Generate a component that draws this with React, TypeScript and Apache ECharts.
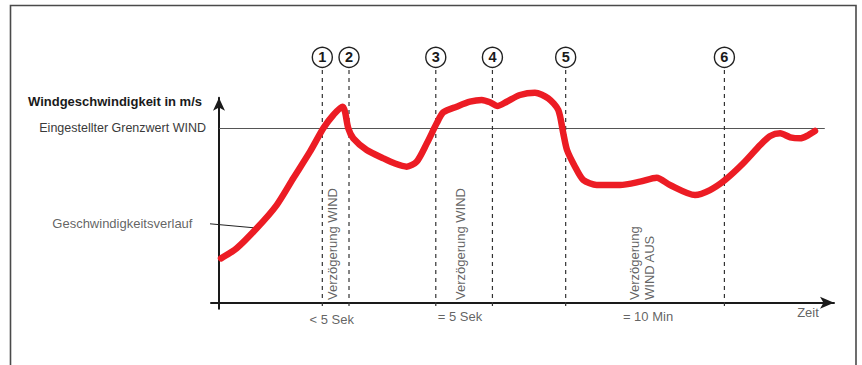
import React, { useEffect, useRef } from 'react';
import * as echarts from 'echarts';

// Wind speed curve: [time, speed] (time 0..100 arbitrary units, speed in m/s units)
const speedCurve: [number, number][] = [
  [0.33, 5.09], [2.88, 6.24], [6.13, 8.53], [9.38, 11.2], [12.08, 14.27], [14.8, 17.32],
  [16.96, 20.0], [18.59, 21.53], [20.11, 22.48], [20.49, 21.9], [21.02, 20.0], [21.84, 18.85],
  [24.02, 17.51], [26.72, 16.56], [28.62, 15.96], [30.52, 15.6], [32.15, 16.17], [33.82, 18.31],
  [35.4, 20.57], [36.47, 21.83], [38.65, 22.48], [40.81, 23.05], [42.72, 23.25], [44.07, 22.98],
  [45.25, 22.56], [46.78, 23.05], [48.94, 23.82], [51.38, 24.08], [53.54, 23.44], [55.17, 22.1],
  [55.98, 19.43], [56.59, 17.51], [57.89, 15.6], [59.24, 14.07], [61.41, 13.5], [65.2, 13.5],
  [68.46, 13.88], [71.17, 14.33], [73.33, 13.5], [77.4, 12.35], [79.84, 12.92], [82.28, 14.07],
  [85.25, 15.99], [88.0, 18.08], [89.63, 19.12], [91.25, 19.43], [92.88, 18.97], [94.5, 18.85],
  [95.56, 19.12], [96.91, 19.69],
];

const eventNumbers = ['1', '2', '3', '4', '5', '6'];
const eventTimes = [16.8, 21.14, 35.25, 44.46, 56.37, 82.18];

const thresholdValue = 20;
const thresholdEnd = 98.5;
const thresholdLabel = 'Eingestellter Grenzwert WIND';

const delayLabels = ['Verzögerung WIND', 'Verzögerung WIND', 'Verzögerung\nWIND AUS'];
const delayLabelTimes = [18.49, 39.3, 68.73];

const durationLabels = ['< 5 Sek', '= 5 Sek', '= 10 Min'];
const durationLabelTimes = [18.33, 39.19, 69.76];

const yAxisTitle = 'Windgeschwindigkeit in m/s';
const xAxisTitle = 'Zeit';
const curveLabel = 'Geschwindigkeitsverlauf';
const curveLeader: [number, number][] = [[-2.93, 9.14], [6.02, 8.57]];

const FONT = '"Liberation Sans", Arial, Helvetica, sans-serif';
const TEXT = '#3a3a3a';

export default function App() {
  const ref = useRef<HTMLDivElement>(null);

  useEffect(() => {
    document.body.style.margin = '0';
    if (!ref.current) return;
    const chart = echarts.init(ref.current, undefined, { renderer: 'svg' });

    const dashedSeries = eventTimes.map((t) => ({
      type: 'line',
      data: [[t, 26.7], [t, -0.6]],
      symbol: 'none',
      clip: false,
      silent: true,
      z: 2,
      lineStyle: { color: '#333', width: 1.2, type: [4, 4] },
    }));

    const option: any = {
      animation: false,
      textStyle: { fontFamily: FONT },
      grid: { left: 211, right: 28, top: 97.8, bottom: 56.2, containLabel: false },
      xAxis: {
        type: 'value',
        min: -1.3,
        max: 100,
        axisLine: {
          show: true,
          onZero: true,
          symbol: ['none', 'arrow'],
          symbolSize: [9, 14],
          lineStyle: { color: '#1a1a1a', width: 2 },
        },
        axisTick: { show: false },
        axisLabel: { show: false },
        splitLine: { show: false },
      },
      yAxis: {
        type: 'value',
        min: -0.7,
        max: 23.5,
        name: yAxisTitle,
        nameLocation: 'end',
        nameGap: -3.2,
        nameTextStyle: {
          align: 'right',
          verticalAlign: 'middle',
          padding: [0, 17, 0, 0],
          fontWeight: 'bold',
          fontSize: 13,
          color: '#1a1a1a',
          fontFamily: FONT,
        },
        axisLine: {
          show: true,
          onZero: true,
          symbol: ['none', 'arrow'],
          symbolSize: [9, 13],
          lineStyle: { color: '#1a1a1a', width: 2 },
        },
        axisTick: { show: false },
        axisLabel: { show: false },
        splitLine: { show: false },
      },
      graphic: [
        {
          type: 'rect',
          shape: { x: 10.5, y: 5.5, width: 845.5, height: 420 },
          style: { fill: 'none', stroke: '#4a4a4a', lineWidth: 1.6 },
          silent: true,
          z: 0,
        },
      ],
      series: [
        ...dashedSeries,
        {
          type: 'scatter',
          data: eventTimes.map((t) => [t, 28.14]),
          symbol: 'circle',
          symbolSize: 20,
          clip: false,
          silent: true,
          z: 5,
          itemStyle: { color: '#fff', borderColor: '#222', borderWidth: 1.4, opacity: 1 },
          label: {
            show: true,
            position: 'inside',
            formatter: (p: any) => eventNumbers[p.dataIndex],
            fontWeight: 'bold',
            fontSize: 14.5,
            color: '#1a1a1a',
            fontFamily: FONT,
          },
        },
        {
          type: 'scatter',
          data: delayLabelTimes.map((t) => [t, 0.31]),
          symbolSize: 1,
          clip: false,
          silent: true,
          z: 4,
          itemStyle: { color: 'transparent' },
          label: {
            show: true,
            position: 'inside',
            rotate: 90,
            align: 'left',
            verticalAlign: 'middle',
            lineHeight: 15,
            formatter: (p: any) => delayLabels[p.dataIndex],
            fontSize: 13,
            color: TEXT,
            fontFamily: FONT,
          },
        },
        {
          type: 'scatter',
          data: [
            ...durationLabelTimes.map((t, i) => ({ value: [t, i === 0 ? -1.98 : -1.64], name: durationLabels[i] })),
            { value: [95.77, -1.18], name: xAxisTitle },
          ],
          symbolSize: 1,
          clip: false,
          silent: true,
          z: 4,
          itemStyle: { color: 'transparent' },
          label: {
            show: true,
            position: 'inside',
            align: 'center',
            verticalAlign: 'middle',
            formatter: (p: any) => p.name,
            fontSize: 13,
            color: TEXT,
            fontFamily: FONT,
          },
        },
        {
          type: 'line',
          data: curveLeader,
          symbol: 'none',
          clip: false,
          silent: true,
          z: 3,
          lineStyle: { color: '#222', width: 1 },
        },
        {
          type: 'scatter',
          data: [{ value: curveLeader[0], name: curveLabel }],
          symbolSize: 1,
          clip: false,
          silent: true,
          z: 4,
          itemStyle: { color: 'transparent' },
          label: {
            show: true,
            position: 'left',
            distance: 8,
            formatter: (p: any) => p.name,
            fontSize: 13,
            color: TEXT,
            fontFamily: FONT,
          },
        },
        {
          type: 'line',
          data: speedCurve,
          symbol: 'none',
          smooth: 0.25,
          clip: false,
          silent: true,
          z: 10,
          lineStyle: { color: '#ec1c24', width: 6.5, cap: 'round', join: 'round' },
          markLine: {
            silent: true,
            symbol: 'none',
            z: 1,
            lineStyle: { color: '#555', width: 1.2, type: 'solid' },
            label: {
              show: true,
              position: 'start',
              distance: 13,
              formatter: thresholdLabel,
              fontSize: 12.5,
              color: TEXT,
              fontFamily: FONT,
            },
            data: [[{ coord: [0, thresholdValue] }, { coord: [thresholdEnd, thresholdValue] }]],
          },
        },
      ],
    };

    chart.setOption(option);
    return () => chart.dispose();
  }, []);

  return <div ref={ref} style={{ width: 862, height: 365 }} />;
}
